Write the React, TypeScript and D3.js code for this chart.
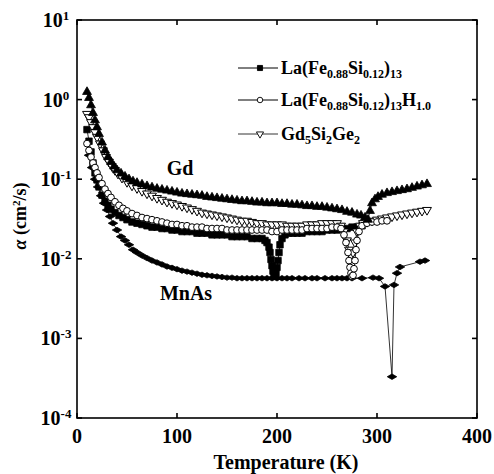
import React from 'react'
import * as d3 from 'd3'

// Gd (filled up-triangles)
const T_GD = [10, 12, 14, 16, 18, 20, 22, 25, 28, 31, 34, 37, 40, 44, 48, 52, 56, 60, 65, 70, 75, 80, 85, 90, 95, 100, 105, 110, 115, 120, 125, 130, 135, 140, 145, 150, 155, 160, 165, 170, 175, 180, 185, 190, 195, 200, 205, 210, 215, 220, 225, 230, 235, 240, 245, 250, 255, 260, 265, 270, 275, 280, 284, 288, 291, 293, 295, 298, 301, 305, 310, 315, 320, 325, 330, 335, 340, 345, 350]
const A_GD = [1.25, 1.05, 0.85, 0.68, 0.55, 0.45, 0.37, 0.29, 0.23, 0.19, 0.165, 0.145, 0.13, 0.118, 0.108, 0.1, 0.094, 0.09, 0.086, 0.082, 0.079, 0.076, 0.074, 0.072, 0.07, 0.068, 0.066, 0.065, 0.064, 0.063, 0.062, 0.06, 0.059, 0.058, 0.057, 0.056, 0.055, 0.054, 0.053, 0.053, 0.052, 0.051, 0.051, 0.05, 0.05, 0.05, 0.049, 0.049, 0.048, 0.048, 0.047, 0.046, 0.046, 0.045, 0.045, 0.044, 0.043, 0.042, 0.041, 0.039, 0.038, 0.036, 0.035, 0.033, 0.031, 0.04, 0.05, 0.056, 0.06, 0.064, 0.067, 0.069, 0.071, 0.073, 0.075, 0.078, 0.081, 0.084, 0.087]

// Gd5Si2Ge2 (open down-triangles)
const T_GSG = [10, 12, 14, 16, 18, 20, 23, 26, 29, 32, 35, 38, 41, 45, 50, 55, 60, 65, 70, 75, 80, 85, 90, 95, 100, 105, 110, 115, 120, 125, 130, 135, 140, 145, 150, 155, 160, 165, 170, 175, 180, 185, 190, 195, 200, 205, 210, 215, 220, 225, 230, 235, 240, 245, 250, 255, 260, 264, 267, 270, 272, 274, 276, 278, 280, 283, 286, 290, 295, 300, 305, 310, 315, 320, 325, 330, 335, 340, 345, 350]
const A_GSG = [0.66, 0.6, 0.52, 0.45, 0.39, 0.34, 0.28, 0.23, 0.19, 0.165, 0.145, 0.13, 0.117, 0.104, 0.092, 0.083, 0.077, 0.071, 0.066, 0.062, 0.058, 0.055, 0.052, 0.05, 0.048, 0.046, 0.044, 0.042, 0.04, 0.038, 0.037, 0.036, 0.035, 0.034, 0.033, 0.032, 0.031, 0.03, 0.03, 0.029, 0.028, 0.028, 0.027, 0.027, 0.027, 0.027, 0.026, 0.026, 0.026, 0.026, 0.027, 0.027, 0.027, 0.028, 0.028, 0.028, 0.028, 0.026, 0.022, 0.017, 0.013, 0.011, 0.012, 0.016, 0.022, 0.026, 0.028, 0.029, 0.03, 0.031, 0.032, 0.033, 0.034, 0.035, 0.036, 0.037, 0.038, 0.039, 0.04, 0.041]

// La(Fe0.88Si0.12)13 (filled squares)
const T_LFS = [10, 12, 14, 16, 18, 20, 22, 25, 28, 31, 34, 38, 42, 46, 50, 55, 60, 65, 70, 75, 80, 85, 90, 95, 100, 105, 110, 115, 120, 125, 130, 135, 140, 145, 150, 155, 160, 165, 170, 175, 180, 185, 188, 190, 192, 193, 194, 195, 196, 197, 198, 199, 200, 201, 202, 203, 205, 208, 212, 216, 220, 225, 230, 235, 240, 245, 250, 255, 260, 265, 270, 275, 280, 285]
const A_LFS = [0.42, 0.3, 0.22, 0.16, 0.12, 0.098, 0.08, 0.063, 0.053, 0.047, 0.042, 0.038, 0.035, 0.033, 0.031, 0.029, 0.028, 0.027, 0.026, 0.025, 0.025, 0.024, 0.024, 0.023, 0.023, 0.022, 0.022, 0.022, 0.021, 0.021, 0.021, 0.02, 0.02, 0.02, 0.02, 0.019, 0.019, 0.019, 0.019, 0.018, 0.018, 0.018, 0.017, 0.016, 0.014, 0.012, 0.0098, 0.0082, 0.007, 0.0063, 0.006, 0.0066, 0.0078, 0.0095, 0.012, 0.015, 0.018, 0.02, 0.021, 0.021, 0.021, 0.021, 0.022, 0.022, 0.022, 0.022, 0.023, 0.023, 0.023, 0.024, 0.024, 0.025, 0.025, 0.026]

// La(Fe0.88Si0.12)13H1.0 (open circles)
const T_LFSH = [10, 12, 14, 16, 18, 20, 22, 25, 28, 31, 34, 38, 42, 46, 50, 55, 60, 65, 70, 75, 80, 85, 90, 95, 100, 105, 110, 115, 120, 125, 130, 135, 140, 145, 150, 155, 160, 165, 170, 175, 180, 185, 190, 195, 200, 205, 210, 215, 220, 225, 230, 235, 240, 245, 250, 255, 260, 264, 267, 269, 271, 272, 273, 274, 275, 276, 277, 278, 279, 280, 282, 285, 290, 295, 300, 305, 310]
const A_LFSH = [0.28, 0.23, 0.19, 0.16, 0.14, 0.12, 0.105, 0.088, 0.075, 0.066, 0.059, 0.052, 0.047, 0.043, 0.04, 0.037, 0.035, 0.033, 0.032, 0.031, 0.03, 0.029, 0.028, 0.027, 0.027, 0.026, 0.026, 0.025, 0.025, 0.025, 0.024, 0.024, 0.024, 0.024, 0.023, 0.023, 0.023, 0.023, 0.023, 0.023, 0.023, 0.023, 0.023, 0.022, 0.022, 0.023, 0.023, 0.023, 0.023, 0.023, 0.024, 0.024, 0.024, 0.024, 0.024, 0.025, 0.025, 0.024, 0.02, 0.016, 0.012, 0.0095, 0.0078, 0.0066, 0.006, 0.0062, 0.0075, 0.0095, 0.013, 0.017, 0.022, 0.026, 0.028, 0.029, 0.029, 0.03, 0.03]

// MnAs (filled diamonds)
const T_MNAS = [12, 15, 18, 21, 24, 27, 30, 33, 36, 40, 44, 48, 52, 56, 60, 65, 70, 75, 80, 85, 90, 95, 100, 105, 110, 115, 120, 125, 130, 135, 140, 145, 150, 155, 160, 165, 170, 175, 180, 185, 190, 195, 200, 205, 210, 215, 222, 228, 235, 240, 248, 255, 260, 265, 270, 275, 285, 296, 302, 308, 315, 317, 320, 323, 343, 348]
const A_MNAS = [0.2, 0.14, 0.1, 0.08, 0.062, 0.05, 0.041, 0.034, 0.028, 0.023, 0.019, 0.017, 0.015, 0.013, 0.012, 0.011, 0.0102, 0.0095, 0.009, 0.0085, 0.008, 0.0077, 0.0074, 0.0071, 0.0069, 0.0067, 0.0065, 0.0063, 0.0062, 0.0061, 0.006, 0.0059, 0.0058, 0.0058, 0.0057, 0.0057, 0.0057, 0.0057, 0.0057, 0.0057, 0.0057, 0.0057, 0.0057, 0.0057, 0.0057, 0.0057, 0.0057, 0.0057, 0.0057, 0.0057, 0.0057, 0.0057, 0.0057, 0.0057, 0.0057, 0.0057, 0.0057, 0.0058, 0.0057, 0.0045, 0.00033, 0.0047, 0.0066, 0.0079, 0.0092, 0.0095]

const X_TICKS = [0, 100, 200, 300, 400]
const Y_TICKS = [1e-4, 1e-3, 1e-2, 1e-1, 1, 10]
const Y_EXP = ['-4', '-3', '-2', '-1', '0', '1']

const FONT = '"Liberation Serif", "DejaVu Serif", serif'

const W = 494
const H = 474
const L = 77, R = 477, TOP = 20, BOT = 418

export default function App() {
  const x = d3.scaleLinear().domain([0, 400]).range([L, R])
  const y = d3.scaleLog().domain([1e-4, 10]).range([BOT, TOP])

  const line = d3.line<[number, number]>()
    .x(d => x(d[0]))
    .y(d => y(d[1]))

  const pairs = (ts: number[], vs: number[]) => ts.map((t, i) => [t, vs[i]] as [number, number])

  const tri = d3.symbol().type(d3.symbolTriangle).size(34)()
  const sq = d3.symbol().type(d3.symbolSquare).size(42)()
  const circ = d3.symbol().type(d3.symbolCircle).size(36)()
  const dia = d3.symbol().type(d3.symbolDiamond).size(26)()

  const series = [
    { key: 'mnas', data: pairs(T_MNAS, A_MNAS), path: dia, rot: 90, fill: '#000', stroke: '#000', sw: 0.8 },
    { key: 'lfs', data: pairs(T_LFS, A_LFS), path: sq, rot: 0, fill: '#000', stroke: '#000', sw: 0.8 },
    { key: 'gsg', data: pairs(T_GSG, A_GSG), path: tri, rot: 180, fill: '#fff', stroke: '#000', sw: 1 },
    { key: 'lfsh', data: pairs(T_LFSH, A_LFSH), path: circ, rot: 0, fill: '#fff', stroke: '#000', sw: 1 },
    { key: 'gd', data: pairs(T_GD, A_GD), path: tri, rot: 0, fill: '#000', stroke: '#000', sw: 0.8 },
  ]

  const legendRows = [
    { y: 68, path: d3.symbol().type(d3.symbolSquare).size(26)(), rot: 0, fill: '#000' },
    { y: 100, path: d3.symbol().type(d3.symbolCircle).size(24)(), rot: 0, fill: '#fff' },
    { y: 134, path: d3.symbol().type(d3.symbolTriangle).size(22)(), rot: 180, fill: '#fff' },
  ]

  const tick = 5

  return (
    <svg width={W} height={H} style={{ position: 'absolute', left: 0, top: 0, background: '#fff' }}
      fontFamily={FONT} fontWeight="bold">
      <rect width={W} height={H} fill="#fff" />

      {/* data */}
      {series.map(s => (
        <g key={s.key}>
          <path d={line(s.data) ?? ''} fill="none" stroke="#000" strokeWidth={0.8} />
          {s.data.map((d, i) => (
            <path key={i} d={s.path ?? ''} transform={`translate(${x(d[0])},${y(d[1])}) rotate(${s.rot})`}
              fill={s.fill} stroke={s.stroke} strokeWidth={s.sw} />
          ))}
        </g>
      ))}

      {/* frame */}
      <rect x={L} y={TOP} width={R - L} height={BOT - TOP} fill="none" stroke="#000" strokeWidth={1.6} />

      {/* x ticks */}
      {X_TICKS.map(t => (
        <g key={'x' + t}>
          <line x1={x(t)} x2={x(t)} y1={BOT} y2={BOT - tick} stroke="#000" strokeWidth={1.6} />
          <line x1={x(t)} x2={x(t)} y1={TOP} y2={TOP + tick} stroke="#000" strokeWidth={1.6} />
          <text x={x(t)} y={443} textAnchor="middle" fontSize={20}>{t}</text>
        </g>
      ))}

      {/* y ticks */}
      {Y_TICKS.map((t, i) => (
        <g key={'y' + i}>
          <line x1={L} x2={L + tick} y1={y(t)} y2={y(t)} stroke="#000" strokeWidth={1.6} />
          <line x1={R} x2={R - tick} y1={y(t)} y2={y(t)} stroke="#000" strokeWidth={1.6} />
          <text x={56} y={y(t) + 7} textAnchor="middle" fontSize={20}>
            10<tspan fontSize={13} dy={-7}>{Y_EXP[i]}</tspan>
          </text>
        </g>
      ))}

      {/* axis titles */}
      <text x={286} y={469} textAnchor="middle" fontSize={20}>Temperature (K)</text>
      <text transform={`translate(26,216) rotate(-90)`} textAnchor="middle" fontSize={18}>
        <tspan fontStyle="italic">α</tspan> (cm<tspan fontSize={11} dy={-6}>2</tspan><tspan dy={6}>/s)</tspan>
      </text>

      {/* curve labels */}
      <text x={180} y={175} textAnchor="middle" fontSize={20}>Gd</text>
      <text x={186} y={300} textAnchor="middle" fontSize={20}>MnAs</text>

      {/* legend */}
      {legendRows.map((r, i) => (
        <g key={'lg' + i}>
          <line x1={238} x2={278} y1={r.y} y2={r.y} stroke="#000" strokeWidth={i === 2 ? 0.8 : 1} />
          <path d={r.path ?? ''} transform={`translate(260,${r.y}) rotate(${r.rot})`} fill={r.fill} stroke="#000" strokeWidth={0.9} />
        </g>
      ))}
      <text x={281} y={74} fontSize={18}>
        La(Fe<tspan fontSize={12} dy={4}>0.88</tspan><tspan dy={-4}>Si</tspan><tspan fontSize={12} dy={4}>0.12</tspan><tspan dy={-4}>)</tspan><tspan fontSize={12} dy={4}>13</tspan>
      </text>
      <text x={281} y={106} fontSize={18}>
        La(Fe<tspan fontSize={12} dy={4}>0.88</tspan><tspan dy={-4}>Si</tspan><tspan fontSize={12} dy={4}>0.12</tspan><tspan dy={-4}>)</tspan><tspan fontSize={12} dy={4}>13</tspan><tspan dy={-4}>H</tspan><tspan fontSize={12} dy={4}>1.0</tspan>
      </text>
      <text x={281} y={140} fontSize={18}>
        Gd<tspan fontSize={12} dy={4}>5</tspan><tspan dy={-4}>Si</tspan><tspan fontSize={12} dy={4}>2</tspan><tspan dy={-4}>Ge</tspan><tspan fontSize={12} dy={4}>2</tspan>
      </text>
    </svg>
  )
}
